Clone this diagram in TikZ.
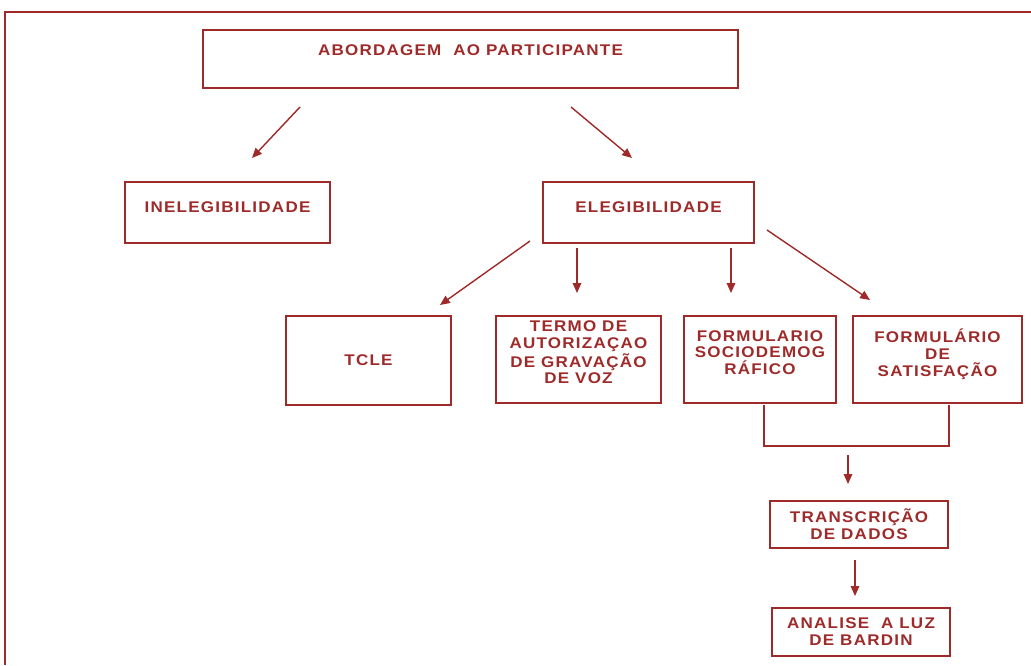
\documentclass[tikz,border=0pt]{standalone}
\usepackage{fontspec}
\setmainfont{Liberation Sans}[LetterSpace=8,FakeStretch=1.1]
\usetikzlibrary{arrows.meta}
\definecolor{boxred}{RGB}{158,42,42}
\begin{document}
\begin{tikzpicture}[
            x=0.025cm, y=-0.025cm,
            >={Triangle[length=7pt,width=6pt]},
            box/.style={draw=boxred, line width=0.9pt, rectangle, inner sep=0pt,
                text=boxred, align=center,
                font=\fontsize{11}{12}\selectfont\bfseries},
            arr/.style={draw=boxred, line width=1pt, ->}
            ]
            \useasboundingbox (0,0) rectangle (1031,665);
            % frame
            \draw[boxred, line width=1.2pt] (1031,12) -- (5,12) -- (5,665);

            \node [box, minimum width=13.375cm, minimum height=1.45cm,
                text height=8pt, text depth=13pt] (abord) at (470.5,59) {ABORDAGEM\ \ AO PARTICIPANTE};
            \node [box, minimum width=5.125cm, minimum height=1.525cm,
                text height=8pt, text depth=8pt] (inelig) at (227.5,212.5) {INELEGIBILIDADE};
            \node [box, minimum width=5.275cm, minimum height=1.525cm,
                text height=8pt, text depth=8pt] (elig) at (648.5,212.5) {ELEGIBILIDADE};

            \node [box, minimum width=4.125cm, minimum height=2.225cm] (tcle) at (368.5,360.5) {TCLE};
            \node [box, minimum width=4.125cm, minimum height=2.175cm, text depth=10pt] (termo) at (578.5,359.5)
                {TERMO DE\\AUTORIZAÇAO\\DE GRAVAÇÃO\\DE VOZ};
            \node [box, minimum width=3.8cm, minimum height=2.175cm, text depth=10pt] (socio) at (760,359.5)
                {FORMULARIO\\SOCIODEMOG\\RÁFICO};
            \node [box, minimum width=4.225cm, minimum height=2.175cm, text depth=10pt] (satisf) at (937.5,359.5)
                {FORMULÁRIO\\DE\\SATISFAÇÃO};

            \node [box, minimum width=4.45cm, minimum height=1.175cm] (transc) at (859,524.5)
                {TRANSCRIÇÃO\\DE DADOS};
            \node [box, minimum width=4.45cm, minimum height=1.2cm] (analise) at (861,632)
                {ANALISE\ \ A LUZ\\DE BARDIN};

            % arrow ends
            \coordinate (a1s) at (300,107); \coordinate (a1e) at (252,158);
            \coordinate (a2s) at (571,107); \coordinate (a2e) at (632,158);
            \coordinate (a3s) at (530,241); \coordinate (a3e) at (440,305);
            \coordinate (a4s) at (577,248); \coordinate (a4e) at (577,293);
            \coordinate (a5s) at (731,248); \coordinate (a5e) at (731,293);
            \coordinate (a6s) at (767,230); \coordinate (a6e) at (870,300);
            \coordinate (a7s) at (848,455); \coordinate (a7e) at (848,484);
            \coordinate (a8s) at (855,560); \coordinate (a8e) at (855,596);
            \coordinate (bl) at (764,405); \coordinate (br) at (949,405);

            \draw[arr] (a1s) -- (a1e);
            \draw[arr] (a2s) -- (a2e);
            \draw[arr] (a3s) -- (a3e);
            \draw[arr] (a4s) -- (a4e);
            \draw[arr] (a5s) -- (a5e);
            \draw[arr] (a6s) -- (a6e);
            \draw[boxred, line width=1pt] (bl) -- ++(0,41) -| (br);
            \draw[arr] (a7s) -- (a7e);
            \draw[arr] (a8s) -- (a8e);
        \end{tikzpicture}
\end{document}
